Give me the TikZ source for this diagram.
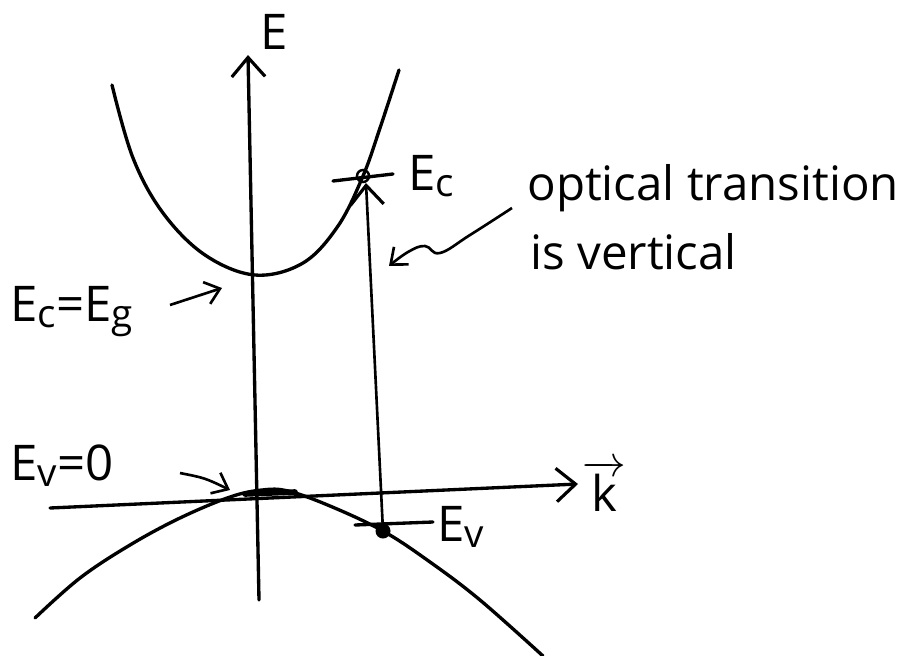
\documentclass[tikz,border=0pt]{standalone}
\usepackage{fontspec}
\setmainfont{Open Sans}
\usetikzlibrary{arrows.meta}
\newcommand{\lowc}[1]{\raisebox{-0.12em}{\fontsize{22}{26}\selectfont #1}}
\begin{document}
\begin{tikzpicture}[x=0.02cm,y=-0.02cm,
  curve/.style={line width=1.9pt, line cap=round, line join=round},
  barb/.style={-{Straight Barb[length=11pt,width=19pt,line width=1.8pt]}},
  smallbarb/.style={-{Straight Barb[length=8pt,width=13pt,line width=1.5pt]}},
  lbl/.style={font=\fontsize{28}{32}\selectfont, inner sep=0pt},
  note/.style={font=\fontsize{27}{32}\selectfont, inner sep=0pt, anchor=west}]
\useasboundingbox (0,0) rectangle (920,656);
% named points
\coordinate (Eb) at (259,600);
\coordinate (Et) at (248,55);
\coordinate (kl) at (50,508);
\coordinate (kr) at (578,484);
\coordinate (Ecp) at (363,176);
\coordinate (Evp) at (383,531);
\coordinate (Ect1) at (333,181);
\coordinate (Ect2) at (393,174);
\coordinate (Evt1) at (355,525);
\coordinate (Evt2) at (433,522);
% axes
\draw[curve, barb] (Eb) -- (Et);
\draw[curve, barb] (kl) -- (kr);
\node[lbl] (Elbl) at (274,32) {E};
\node[lbl] (klbl) at (604,486) {$\overrightarrow{\mbox{\fontsize{28}{32}\selectfont k}}$};
% conduction band
\draw[curve] plot[smooth, tension=0.6] coordinates {(112,85) (133,158) (163,213) (205,255) (255,275) (303,263) (338,226) (363,176) (380,128) (399,70)};
% valence band
\draw[curve] plot[smooth, tension=0.6] coordinates {(35,618) (80,578) (130,545) (180,518) (230,497) (262,490) (288,491) (330,506) (383,531) (430,562) (480,600) (543,656)};
\draw[line width=3.2pt, line cap=round] (245,494) -- (295,492);
% Ec point
\draw[line width=1.4pt] (Ecp) circle (6);
\draw[curve] (Ect1) -- (Ect2);
\node[lbl, anchor=west] (Eclbl) at (408,176) {E\lowc{c}};
% Ev point
\fill (Evp) circle (7.5);
\draw[curve] (Evt1) -- (Evt2);
\node[lbl, anchor=west] (Evlbl) at (437,527) {E\lowc{v}};
% optical transition
\draw[line width=1.5pt, barb] (Evp) -- (366,183) coordinate (trtip);
% labels with arrows
\node[lbl, anchor=west] (EcEg) at (10,312) {E\lowc{c}=E\lowc{g}};
\coordinate (a1s) at (170,305);
\coordinate (a1e) at (222,288);
\draw[line width=1.5pt, smallbarb] (a1s) -- (a1e);
\node[lbl, anchor=west] (Ev0) at (10,466) {E\lowc{v}=0};
\coordinate (a2s) at (180,473);
\coordinate (a2e) at (230,490);
\draw[line width=1.5pt, smallbarb] (a2s) .. controls (205,478) .. (a2e);
% note
\node[note] (n1) at (527,188) {optical transition};
\node[note] (n2) at (530,252) {is vertical};
\draw[line width=1.5pt, smallbarb] plot[smooth, tension=0.7] coordinates {(512,208) (470,235) (440,253) (425,246) (408,252) (389,266)};
\end{tikzpicture}
\end{document}
